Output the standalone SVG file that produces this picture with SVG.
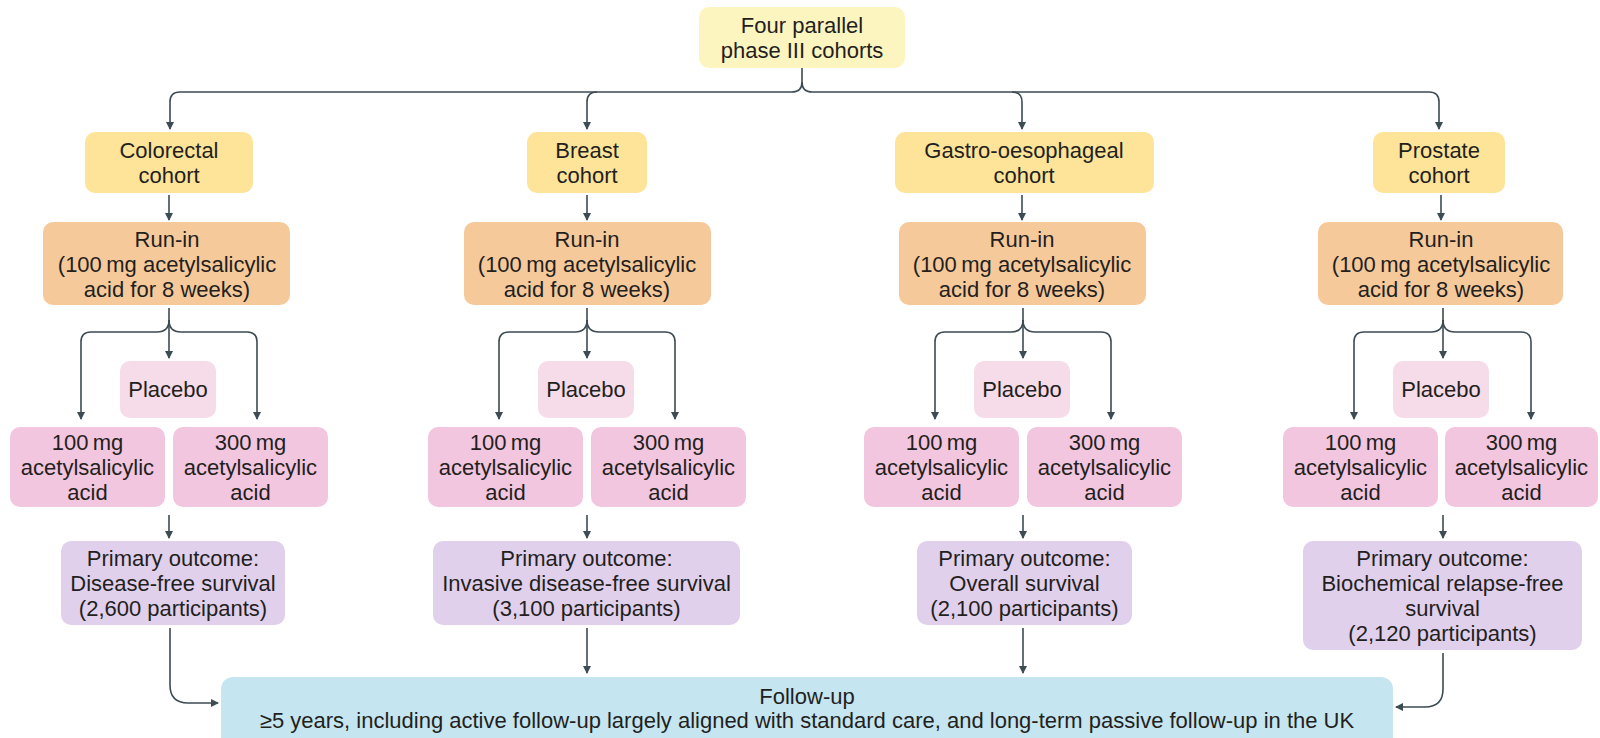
<svg xmlns="http://www.w3.org/2000/svg" width="1600" height="738" viewBox="0 0 1600 738">
<style>
text{font-family:"Liberation Sans",Arial,sans-serif;font-size:22px;fill:#231f20;text-anchor:middle}
.top{fill:#fdf5c0}
.coh{fill:#fde499}
.run{fill:#f6c99b}
.pla{fill:#f6dbe8}
.dose{fill:#f2c6de}
.out{fill:#e1d0ec}
.fu{fill:#c5e5f1}
.c path{fill:none;stroke:#3d4b53;stroke-width:1.6}
.c path.a{marker-end:url(#ah)}
</style>
<defs>
<marker id="ah" markerWidth="8" markerHeight="10" refX="7" refY="5" orient="auto" markerUnits="userSpaceOnUse" viewBox="0 0 8 10">
<path d="M0,1 L8,5 L0,9 Z" fill="#3d4b53"/>
</marker>
</defs>
<rect width="1600" height="738" fill="#ffffff"/>

<g class="c" id="connectors">
<path d="M802,68 V82"/>
<path d="M802,82 Q802,92 792,92 H180 Q170,92 170,102 V129" class="a"/>
<path d="M802,82 Q802,92 812,92 H1429 Q1439,92 1439,102 V129" class="a"/>
<path d="M597,92 Q587,92 587,102 V129" class="a"/>
<path d="M1012,92 Q1022,92 1022,102 V129" class="a"/>

<path d="M169,195 V220" class="a"/>
<path d="M587,195 V220" class="a"/>
<path d="M1022,195 V220" class="a"/>
<path d="M1441,195 V220" class="a"/>

<path d="M169,308 V358" class="a"/>
<path d="M169,320 Q169,332 157,332 H91 Q81,332 81,342 V419" class="a"/>
<path d="M169,320 Q169,332 181,332 H247 Q257,332 257,342 V419" class="a"/>
<path d="M587,308 V358" class="a"/>
<path d="M587,320 Q587,332 575,332 H509 Q499,332 499,342 V419" class="a"/>
<path d="M587,320 Q587,332 599,332 H665 Q675,332 675,342 V419" class="a"/>
<path d="M1023,308 V358" class="a"/>
<path d="M1023,320 Q1023,332 1011,332 H945 Q935,332 935,342 V419" class="a"/>
<path d="M1023,320 Q1023,332 1035,332 H1101 Q1111,332 1111,342 V419" class="a"/>
<path d="M1443,308 V358" class="a"/>
<path d="M1443,320 Q1443,332 1431,332 H1364 Q1354,332 1354,342 V419" class="a"/>
<path d="M1443,320 Q1443,332 1455,332 H1521 Q1531,332 1531,342 V419" class="a"/>

<path d="M169,515 V538" class="a"/>
<path d="M587,515 V538" class="a"/>
<path d="M1023,515 V538" class="a"/>
<path d="M1443,515 V538" class="a"/>

<path d="M170,628 V685 Q170,703 188,703 H218" class="a"/>
<path d="M587,628 V673" class="a"/>
<path d="M1023,628 V673" class="a"/>
<path d="M1443,653 V689 Q1443,707 1425,707 H1396" class="a"/>
</g>

<g id="n-top"><rect class="top" x="699" y="7" width="206" height="61" rx="10"/>
<text x="802" y="33">Four parallel</text><text x="802" y="57.5">phase III cohorts</text></g>

<g id="n-coh-colorectal"><rect class="coh" x="85" y="132" width="168" height="61" rx="10"/>
<text x="169" y="158">Colorectal</text><text x="169" y="182.5">cohort</text></g>
<g id="n-coh-breast"><rect class="coh" x="527" y="132" width="120" height="61" rx="10"/>
<text x="587" y="158">Breast</text><text x="587" y="182.5">cohort</text></g>
<g id="n-coh-gastro"><rect class="coh" x="895" y="132" width="259" height="61" rx="10"/>
<text x="1024" y="158">Gastro-oesophageal</text><text x="1024" y="182.5">cohort</text></g>
<g id="n-coh-prostate"><rect class="coh" x="1373" y="132" width="132" height="61" rx="10"/>
<text x="1439" y="158">Prostate</text><text x="1439" y="182.5">cohort</text></g>

<g id="n-run-colorectal"><rect class="run" x="43" y="222" width="247" height="83" rx="10"/>
<text x="167" y="246.5">Run-in</text><text x="167" y="271.5">(100&#8201;mg acetylsalicylic</text><text x="167" y="296.5">acid for 8 weeks)</text></g>
<g id="n-run-breast"><rect class="run" x="464" y="222" width="247" height="83" rx="10"/>
<text x="587" y="246.5">Run-in</text><text x="587" y="271.5">(100&#8201;mg acetylsalicylic</text><text x="587" y="296.5">acid for 8 weeks)</text></g>
<g id="n-run-gastro"><rect class="run" x="899" y="222" width="247" height="83" rx="10"/>
<text x="1022" y="246.5">Run-in</text><text x="1022" y="271.5">(100&#8201;mg acetylsalicylic</text><text x="1022" y="296.5">acid for 8 weeks)</text></g>
<g id="n-run-prostate"><rect class="run" x="1318" y="222" width="245" height="83" rx="10"/>
<text x="1441" y="246.5">Run-in</text><text x="1441" y="271.5">(100&#8201;mg acetylsalicylic</text><text x="1441" y="296.5">acid for 8 weeks)</text></g>

<g id="n-pla-colorectal"><rect class="pla" x="120" y="361" width="96" height="57" rx="10"/><text x="168" y="397">Placebo</text></g>
<g id="n-pla-breast"><rect class="pla" x="538" y="361" width="96" height="57" rx="10"/><text x="586" y="397">Placebo</text></g>
<g id="n-pla-gastro"><rect class="pla" x="974" y="361" width="96" height="57" rx="10"/><text x="1022" y="397">Placebo</text></g>
<g id="n-pla-prostate"><rect class="pla" x="1393" y="361" width="96" height="57" rx="10"/><text x="1441" y="397">Placebo</text></g>

<g id="n-d100-colorectal"><rect class="dose" x="10" y="427" width="155" height="80" rx="10"/>
<text x="87.5" y="450">100&#8201;mg</text><text x="87.5" y="475">acetylsalicylic</text><text x="87.5" y="500">acid</text></g>
<g id="n-d300-colorectal"><rect class="dose" x="173" y="427" width="155" height="80" rx="10"/>
<text x="250.5" y="450">300&#8201;mg</text><text x="250.5" y="475">acetylsalicylic</text><text x="250.5" y="500">acid</text></g>
<g id="n-d100-breast"><rect class="dose" x="428" y="427" width="155" height="80" rx="10"/>
<text x="505.5" y="450">100&#8201;mg</text><text x="505.5" y="475">acetylsalicylic</text><text x="505.5" y="500">acid</text></g>
<g id="n-d300-breast"><rect class="dose" x="591" y="427" width="155" height="80" rx="10"/>
<text x="668.5" y="450">300&#8201;mg</text><text x="668.5" y="475">acetylsalicylic</text><text x="668.5" y="500">acid</text></g>
<g id="n-d100-gastro"><rect class="dose" x="864" y="427" width="155" height="80" rx="10"/>
<text x="941.5" y="450">100&#8201;mg</text><text x="941.5" y="475">acetylsalicylic</text><text x="941.5" y="500">acid</text></g>
<g id="n-d300-gastro"><rect class="dose" x="1027" y="427" width="155" height="80" rx="10"/>
<text x="1104.5" y="450">300&#8201;mg</text><text x="1104.5" y="475">acetylsalicylic</text><text x="1104.5" y="500">acid</text></g>
<g id="n-d100-prostate"><rect class="dose" x="1283" y="427" width="155" height="80" rx="10"/>
<text x="1360.5" y="450">100&#8201;mg</text><text x="1360.5" y="475">acetylsalicylic</text><text x="1360.5" y="500">acid</text></g>
<g id="n-d300-prostate"><rect class="dose" x="1445" y="427" width="153" height="80" rx="10"/>
<text x="1521.5" y="450">300&#8201;mg</text><text x="1521.5" y="475">acetylsalicylic</text><text x="1521.5" y="500">acid</text></g>

<g id="n-out-colorectal"><rect class="out" x="61" y="541" width="224" height="84" rx="10"/>
<text x="173" y="566">Primary outcome:</text><text x="173" y="591">Disease-free survival</text><text x="173" y="616">(2,600 participants)</text></g>
<g id="n-out-breast"><rect class="out" x="433" y="541" width="307" height="84" rx="10"/>
<text x="586.5" y="566">Primary outcome:</text><text x="586.5" y="591">Invasive disease-free survival</text><text x="586.5" y="616">(3,100 participants)</text></g>
<g id="n-out-gastro"><rect class="out" x="917" y="541" width="215" height="84" rx="10"/>
<text x="1024.5" y="566">Primary outcome:</text><text x="1024.5" y="591">Overall survival</text><text x="1024.5" y="616">(2,100 participants)</text></g>
<g id="n-out-prostate"><rect class="out" x="1303" y="541" width="279" height="109" rx="10"/>
<text x="1442.5" y="566">Primary outcome:</text><text x="1442.5" y="591">Biochemical relapse-free</text><text x="1442.5" y="616">survival</text><text x="1442.5" y="641">(2,120 participants)</text></g>

<g id="n-followup"><rect class="fu" x="221" y="677" width="1172" height="75" rx="12"/>
<text x="807" y="704">Follow-up</text><text x="807" y="728">≥5 years, including active follow-up largely aligned with standard care, and long-term passive follow-up in the UK</text></g>
</svg>
